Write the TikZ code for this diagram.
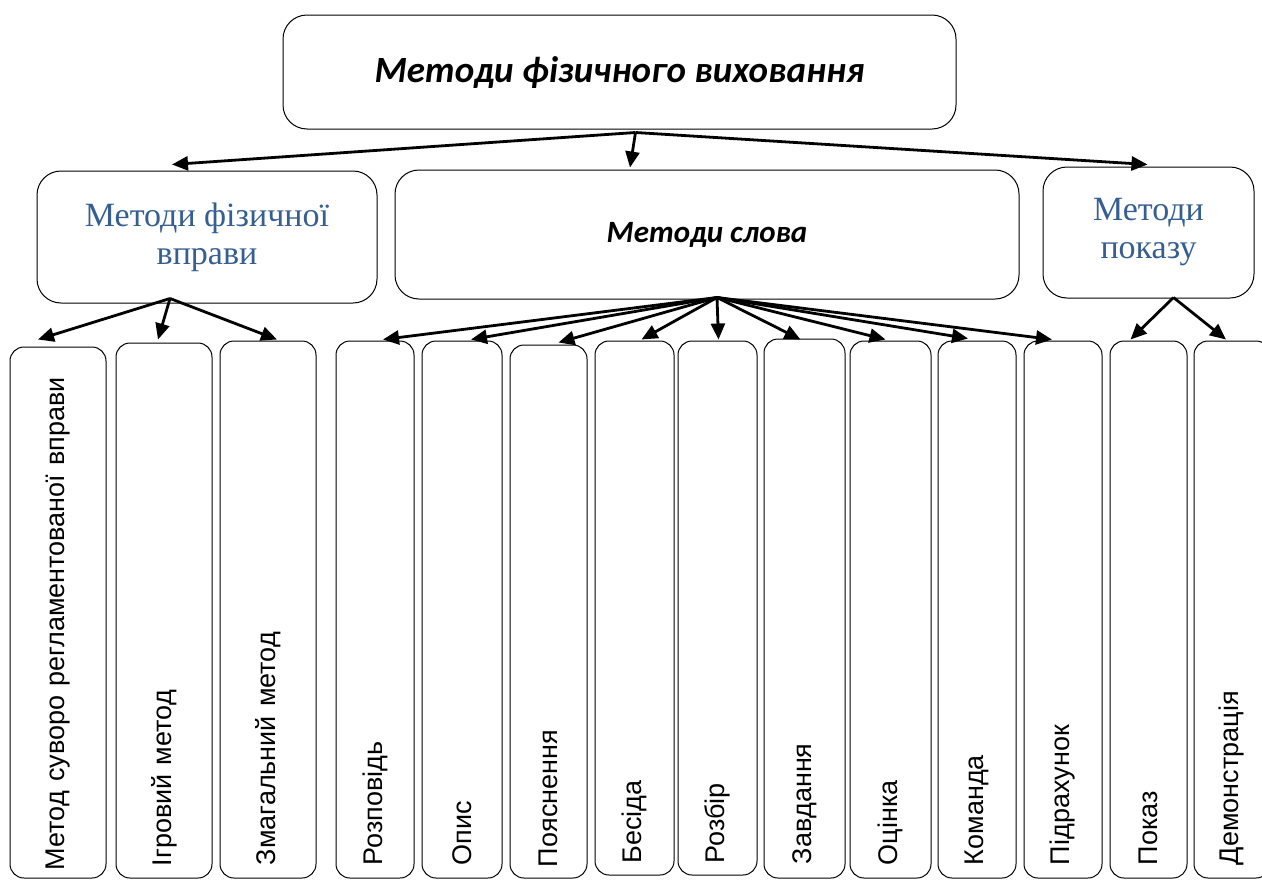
\documentclass[tikz,border=0pt]{standalone}
\usepackage{fontspec}
\usetikzlibrary{arrows.meta}
\newfontfamily\headfont{Carlito}
\newfontfamily\groupfont{Liberation Serif}
\newfontfamily\leaffont{Liberation Sans}
\definecolor{groupblue}{RGB}{54,95,145}

\begin{document}
\begin{tikzpicture}[x = 1pt, y = -1pt, every node/.style = {draw = black, line width = 1pt, rounded corners = 24pt, inner sep = 0pt},
    head/.style = {font = \headfont\bfseries\itshape\fontsize{37}{44}\selectfont},
    group/.style = {font = \groupfont\fontsize{34}{38}\selectfont, text = groupblue, align = center},
    leaf/.style = {rotate = 90, rounded corners = 14pt, text width = 511pt, align = left, font = \leaffont\fontsize{27}{32}\selectfont},
    link/.style = {-{Triangle[length = 16pt, width = 14pt]}, line width = 2.8pt}]

    \useasboundingbox (0, 0) rectangle (1262, 881);

    \node (MFV) at (619.5, 72)  [head, minimum width = 673pt, minimum height = 114pt, text depth = 4pt] {Методи фізичного виховання};
    \node (MFE) at (207, 237)   [group, minimum width = 340pt, minimum height = 132pt] {Методи фізичної\\вправи};
    \node (MS)  at (707, 234.5) [head, font = \headfont\bfseries\itshape\fontsize{31}{36}\selectfont, minimum width = 624pt, minimum height = 129pt] {Методи слова};
    \node (MP)  at (1148.5, 232.5) [group, minimum width = 211pt, minimum height = 131pt] {Методи\\показу};

    \node (M1)  at (58, 612.5)   [leaf, text width = 515pt, minimum width = 531pt, minimum height = 96pt] {\mbox{Метод суворо регламентованої вправи}};
    \node (M2)  at (164, 610.5)  [leaf, minimum width = 535pt, minimum height = 96pt] {Ігровий метод};
    \node (M3)  at (268, 609.5)  [leaf, minimum width = 537pt, minimum height = 96pt] {Змагальний метод};
    \node (M4)  at (375, 609.5)  [leaf, minimum width = 537pt, minimum height = 78pt] {Розповідь};
    \node (M5)  at (462, 609.5)  [leaf, minimum width = 537pt, minimum height = 80pt] {Опис};
    \node (M6)  at (548.5, 611.5) [leaf, minimum width = 533pt, minimum height = 77pt] {Пояснення};
    \node (M7)  at (634.5, 608)  [leaf, minimum width = 534pt, minimum height = 79pt] {Бесіда};
    \node (M8)  at (717.5, 608)  [leaf, minimum width = 534pt, minimum height = 79pt] {Розбір};
    \node (M9)  at (804.5, 608.5) [leaf, minimum width = 539pt, minimum height = 81pt] {Завдання};
    \node (M10) at (890.5, 609.5) [leaf, minimum width = 537pt, minimum height = 81pt] {Оцінка};
    \node (M11) at (977, 609.5)  [leaf, minimum width = 537pt, minimum height = 78pt] {Команда};
    \node (M12) at (1063, 609.5) [leaf, minimum width = 537pt, minimum height = 78pt] {Підрахунок};
    \node (M13) at (1148.5, 609.5) [leaf, minimum width = 537pt, minimum height = 77pt] {Показ};
    \node (M14) at (1232, 609.5) [leaf, minimum width = 537pt, minimum height = 76pt] {Демонстрація};

    \foreach \to/\dx/\dy in {MFE/-35/6, MS/-77/2, MP/-1/2}
        \path ([xshift = 16, yshift = -3]MFV.south) edge [link] ([xshift = \dx, yshift = \dy]\to.north);
    \foreach \to/\dx/\dy in {M1/-20/7, M2/-6/3, M3/9/1}
        \path ([xshift = -37, yshift = 5]MFE.south) edge [link] ([xshift = \dx, yshift = \dy]\to.east);
    \foreach \to/\dx/\dy in {M4/8/1, M5/9/1, M6/10/2, M7/7/1, M8/1/1, M9/-4/-1, M10/-5/1, M11/-9/2, M12/-11/1}
        \path ([xshift = 10, yshift = 2]MS.south) edge [link] ([xshift = \dx, yshift = \dy]\to.east);
    \foreach \to/\dx/\dy in {M13/-18/1, M14/-6/1}
        \path ([xshift = 25, yshift = 1]MP.south) edge [link] ([xshift = \dx, yshift = \dy]\to.east);

\end{tikzpicture}
\end{document}
